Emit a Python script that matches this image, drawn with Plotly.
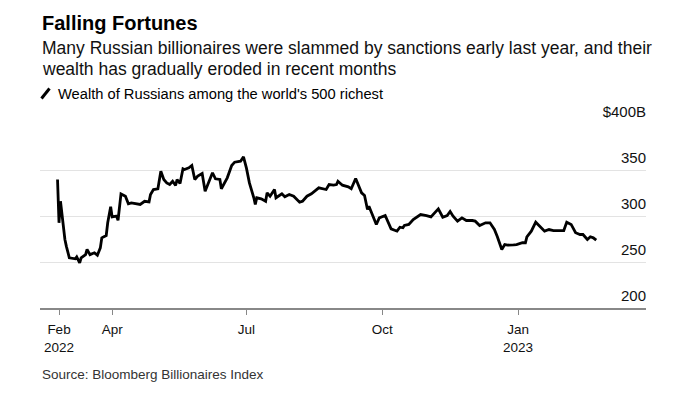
import pandas as pd
import plotly.graph_objects as go

# ---- data ----
start_date = "2022-02-23"
day_offsets = [0, 1, 2, 3, 5, 6, 8, 12, 13, 15, 16, 19, 20, 22, 25, 27, 29, 30, 33, 34,
               36, 37, 40, 41, 43, 46, 48, 50, 56, 59, 62, 63, 65, 68, 70, 72, 74, 76, 78, 80,
               81, 83, 85, 86, 89, 91, 93, 95, 98, 100, 103, 105, 107, 110, 111, 115, 118, 120, 124, 126,
               128, 130, 133, 134, 135, 138, 141, 142, 144, 147, 148, 152, 154, 157, 160, 164, 166, 169, 172, 177,
               182, 184, 187, 189, 190, 193, 197, 199, 202, 204, 206, 208, 210, 211, 213, 216, 218, 222, 226, 230,
               232, 234, 235, 238, 241, 243, 246, 250, 253, 258, 261, 264, 266, 268, 271, 274, 277, 281, 283, 286,
               290, 293, 296, 298, 301, 303, 305, 309, 311, 315, 317, 318, 321, 324, 326, 330, 333, 336, 343, 345,
               348, 351, 354, 356, 359, 361, 363, 365]
wealth_bn = [339.7, 292.6, 316.0, 301.6, 274.5, 267.0, 254.6, 253.5, 255.6, 249.0, 254.6, 258.0, 263.6, 258.0, 260.0, 257.4, 265.4, 276.3, 278.8, 292.6,
             310.0, 299.0, 299.8, 295.4, 324.0, 321.5, 313.2, 314.3, 312.5, 316.0, 315.4, 323.4, 328.8, 329.6, 348.7, 339.7, 336.0, 334.2, 337.8, 333.2,
             339.7, 335.3, 351.3, 350.6, 352.4, 354.9, 339.7, 343.3, 346.2, 327.0, 339.7, 347.0, 340.4, 339.7, 329.6, 341.5, 354.9, 358.5, 359.6, 364.3,
             352.0, 336.0, 319.8, 312.5, 319.8, 318.7, 316.0, 325.2, 321.5, 328.8, 319.8, 324.1, 320.9, 323.4, 321.5, 315.0, 316.1, 321.5, 324.1, 330.6,
             328.8, 334.2, 333.5, 334.2, 337.8, 333.5, 331.7, 329.6, 340.8, 332.4, 325.2, 322.3, 307.0, 310.7, 303.5, 290.8, 298.0, 300.5, 286.0, 283.5,
             287.8, 287.2, 289.7, 290.8, 296.2, 298.0, 301.6, 300.5, 299.1, 307.8, 298.7, 300.5, 304.9, 299.8, 294.4, 298.0, 295.1, 295.1, 294.4, 289.7,
             292.6, 292.6, 285.3, 277.4, 263.6, 269.0, 268.3, 268.7, 269.0, 270.9, 270.9, 277.4, 283.5, 293.3, 289.7, 283.5, 285.3, 284.2, 284.2, 293.3,
             290.8, 281.8, 279.9, 279.9, 274.5, 277.4, 276.3, 273.7]

x_tick_dates = ["2022-02-24", "2022-04-01", "2022-07-01", "2022-10-01", "2023-01-01"]
x_tick_labels = ["Feb<br>2022", "Apr", "Jul", "Oct", "Jan<br>2023"]
y_tick_vals = [200, 250, 300, 350, 400]
y_tick_labels = ["200", "250", "300", "350", "$400B"]

title = "Falling Fortunes"
subtitle_1 = "Many Russian billionaires were slammed by sanctions early last year, and their"
subtitle_2 = "wealth has gradually eroded in recent months"
legend_label = "Wealth of Russians among the world's 500 richest"
source = "Source: Bloomberg Billionaires Index"

dates = pd.to_datetime(start_date) + pd.to_timedelta(day_offsets, unit="D")

FONT = "Liberation Sans, Arial, sans-serif"

fig = go.Figure()
fig.add_trace(go.Scatter(
    x=dates, y=wealth_bn, mode="lines",
    line=dict(color="#000000", width=2.8),
    showlegend=False, hoverinfo="skip",
))

H = 184.0  # plot height in px
W = 606.0

def py(pix):
    return (308.5 - pix) / H

def px(pix):
    return (pix - 40) / W

annotations = [
    dict(text="<b>" + title + "</b>", x=0, y=py(23), xanchor="left", yanchor="middle",
         font=dict(size=20, color="#000000", family=FONT)),
    dict(text=subtitle_1, x=px(40), y=py(48), xanchor="left", yanchor="middle",
         font=dict(size=17.5, color="#111111", family=FONT)),
    dict(text=subtitle_2, x=px(40), y=py(69), xanchor="left", yanchor="middle",
         font=dict(size=17.5, color="#111111", family=FONT)),
    dict(text=legend_label, x=px(56), y=py(94), xanchor="left", yanchor="middle",
         font=dict(size=14.7, color="#000000", family=FONT)),
    dict(text=source, x=0, y=py(375), xanchor="left", yanchor="middle",
         font=dict(size=13.5, color="#333333", family=FONT)),
]
for a in annotations:
    a.update(xref="paper", yref="paper", showarrow=False)

fig.update_layout(
    width=691, height=399,
    margin=dict(l=40, r=45, t=124, b=91),
    paper_bgcolor="white", plot_bgcolor="white",
    font=dict(family=FONT, color="#111111"),
    annotations=annotations,
    shapes=[dict(type="line", xref="paper", yref="paper",
                 x0=px(41.5), y0=py(99), x1=px(49.5), y1=py(89),
                 line=dict(color="#000000", width=3))],
    xaxis=dict(
        type="date",
        range=["2022-02-11 03:00", "2023-03-28 17:00"],
        tickvals=x_tick_dates, ticktext=x_tick_labels,
        showgrid=False, zeroline=False,
        showline=True, linecolor="#888888", linewidth=1.5,
        ticks="outside", ticklen=5, tickcolor="#888888", tickwidth=1.2,
        ticklabelstandoff=3,
        tickfont=dict(size=13.5, color="#111111", family=FONT),
    ),
    yaxis=dict(
        range=[200, 400], side="right",
        tickvals=y_tick_vals, ticktext=y_tick_labels,
        ticklabelposition="inside top", ticklabeloverflow="allow",
        ticklabelstandoff=-3, ticklabelshift=-2,
        ticks="", showline=False, zeroline=False,
        showgrid=True, gridcolor="#e3e3e3", gridwidth=1.3,
        tickfont=dict(size=15, color="#111111", family=FONT),
    ),
)

fig.write_html("out.html", config={"displayModeBar": False},
               post_script="document.body.style.margin='0';document.body.style.padding='0';")
